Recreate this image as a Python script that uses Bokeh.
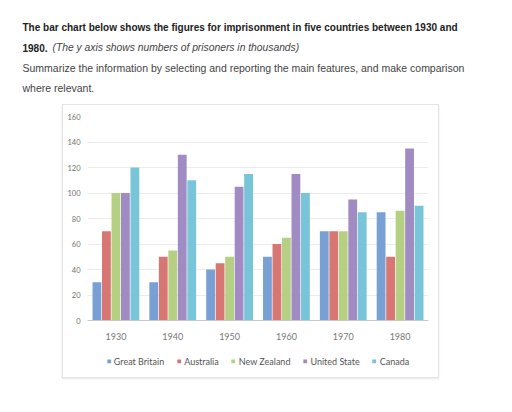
from bokeh.plotting import figure
from bokeh.layouts import column
from bokeh.models import (FactorRange, SingleIntervalTicker, ColumnDataSource, Range1d)
from bokeh.core.properties import value
from bokeh.transform import dodge
from bokeh.embed import file_html
from bokeh.resources import INLINE

years = ["1930", "1940", "1950", "1960", "1970", "1980"]
countries = ["Great Britain", "Australia", "New Zealand", "United State", "Canada"]
great_britain = [30, 30, 40, 50, 70, 85]
australia = [70, 50, 45, 60, 70, 50]
new_zealand = [100, 55, 50, 65, 70, 86]
united_state = [100, 130, 105, 115, 95, 135]
canada = [120, 110, 115, 100, 85, 90]
colors = ["#78a0d4", "#d87673", "#b5cf83", "#a08cc2", "#78c4d8"]


def bare(fig):
    fig.outline_line_color = None
    fig.grid.grid_line_color = None
    fig.min_border_left = fig.min_border_right = 0
    fig.min_border_top = fig.min_border_bottom = 0
    return fig


# ---- heading block (pixel coordinates, y grows downward) ----
hd = bare(figure(width=512, height=104, x_range=Range1d(0, 512), y_range=Range1d(104, 0),
                 output_backend="svg", toolbar_location=None,
                 x_axis_location=None, y_axis_location=None))
head_font = value("Liberation Sans")


def line(x, y, s, style="normal", color="#444444", size="10.5px"):
    hd.text(x=[x], y=[y], text=[s], text_font=head_font, text_font_size=size,
            text_font_style=style, text_color=color, text_baseline="middle")


line(22, 27, "The bar chart below shows the figures for imprisonment in five countries between 1930 and",
     style="bold", color="#222222", size="10px")
line(22, 47, "1980.", style="bold", color="#222222", size="10px")
line(52, 47, "(The y axis shows numbers of prisoners in thousands)", style="italic", size="10.3px")
line(22, 67, "Summarize the information by selecting and reporting the main features, and make comparison")
line(22, 87, "where relevant.")

# ---- bar chart ----
source = ColumnDataSource(dict(year=years, gb=great_britain, au=australia,
                               nz=new_zealand, us=united_state, ca=canada))

p = figure(width=375, height=240, x_range=FactorRange(*years, range_padding=0),
           y_range=(0, 160), output_backend="svg", toolbar_location=None,
           min_border_left=24, min_border_right=10, min_border_top=11,
           min_border_bottom=25)
p.outline_line_color = None

keys = ["gb", "au", "nz", "us", "ca"]
offsets = [-0.334, -0.167, 0.0, 0.167, 0.334]
for key, off, col in zip(keys, offsets, colors):
    p.vbar(x=dodge("year", off, range=p.x_range), top=key, width=0.155,
           source=source, fill_color=col, line_color=None)

p.yaxis.ticker = SingleIntervalTicker(interval=20)
p.yaxis.axis_line_color = None
p.yaxis.major_tick_line_color = None
p.yaxis.minor_tick_line_color = None
p.yaxis.major_tick_out = 0
p.yaxis.major_tick_in = 0
p.yaxis.minor_tick_out = 0
p.yaxis.major_label_text_font = "Lato"
p.yaxis.major_label_text_font_size = "7.5px"
p.yaxis.major_label_text_color = "#707070"
p.yaxis.major_label_standoff = 7
p.xaxis.axis_line_color = "#c8c8c8"
p.xaxis.major_tick_line_color = None
p.xaxis.minor_tick_line_color = None
p.xaxis.major_tick_out = 0
p.xaxis.major_tick_in = 0
p.xaxis.minor_tick_out = 0
p.xaxis.major_label_text_font = "Lato"
p.xaxis.major_label_text_font_size = "9px"
p.xaxis.major_label_text_color = "#777777"
p.xaxis.major_label_standoff = 12
p.xgrid.grid_line_color = None
p.ygrid.grid_line_color = "#ececec"

# ---- legend strip under the chart ----
lg = bare(figure(width=375, height=32, x_range=Range1d(0, 1), y_range=Range1d(0, 1),
                 output_backend="svg", toolbar_location=None,
                 x_axis_location=None, y_axis_location=None))
for col, name in zip(colors, countries):
    # a box outside the visible range, so only the legend swatch shows
    lg.quad(left=[-5], right=[-4], bottom=[-5], top=[-4], fill_color=col,
            line_color=None, legend_label=name)
lg.legend.orientation = "horizontal"
lg.legend.location = "center"
lg.legend.label_text_font = "Lato"
lg.legend.label_text_font_size = "9px"
lg.legend.label_text_color = "#555555"
lg.legend.glyph_width = 5
lg.legend.glyph_height = 5
lg.legend.label_height = 9
lg.legend.spacing = 12
lg.legend.label_standoff = 3
lg.legend.padding = 0
lg.legend.margin = 0
lg.legend.border_line_color = None
lg.legend.background_fill_alpha = 0

box = column(p, lg, margin=(0, 0, 0, 62),
             styles={"border": "1px solid #e4e4e4",
                     "box-shadow": "0 1px 2px rgba(0,0,0,0.10)"})

open("out.html", "w").write(file_html(column(hd, box), INLINE))
